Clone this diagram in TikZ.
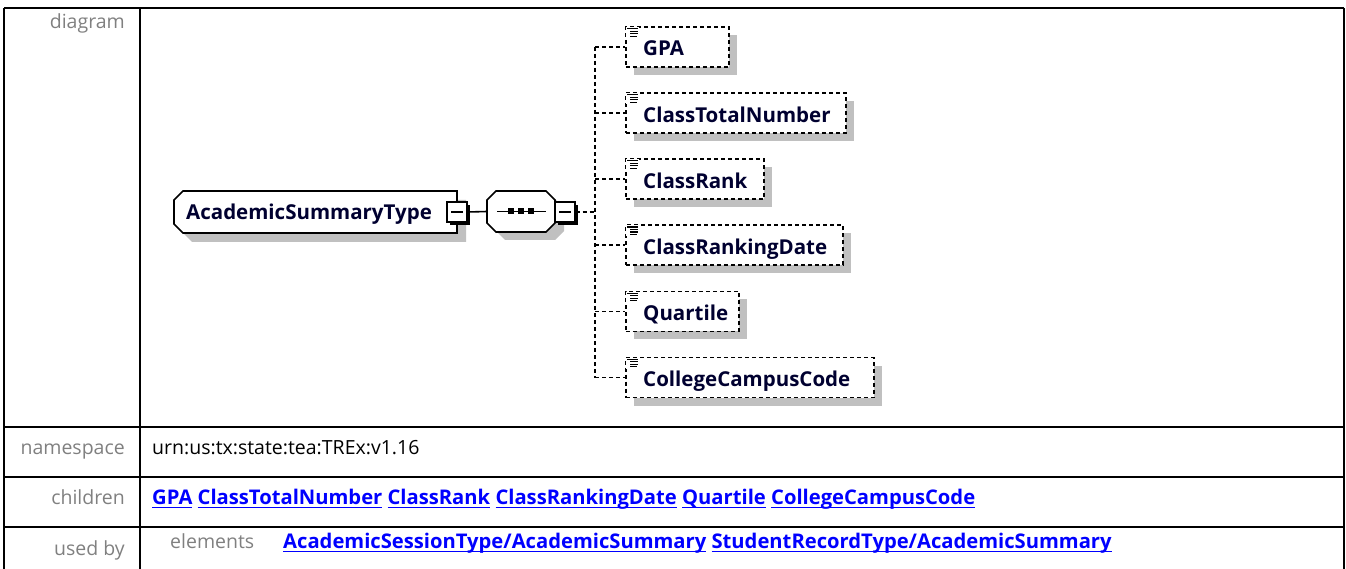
\documentclass[tikz,border=0pt]{standalone}
\usepackage{fontspec}
\setmainfont{Open Sans}
\usetikzlibrary{calc,shadows}
\definecolor{shgray}{RGB}{192,192,192}
\definecolor{lblgray}{RGB}{128,128,128}
\definecolor{navyink}{RGB}{0,0,48}
\definecolor{linkblue}{RGB}{0,0,255}
\newcommand\lnk[1]{\setbox0\hbox{#1}\leavevmode\rlap{\rule[-3.5pt]{\wd0}{1.6pt}}\box0\relax}
\newcommand\elempath[3]{($(#1.north west)+(9+#2,#3)$) -- ($(#1.north east)+(#2,#3)$) -- ($(#1.south east)+(#2,#3)$) -- ($(#1.south west)+(9+#2,#3)$) -- ($(#1.south west)+(#2,-9+#3)$) -- ($(#1.north west)+(#2,9+#3)$) -- cycle}
\newcommand\octpath[3]{($(#1.north west)+(9+#2,#3)$) -- ($(#1.north east)+(-9+#2,#3)$) -- ($(#1.north east)+(#2,9+#3)$) -- ($(#1.south east)+(#2,-9+#3)$) -- ($(#1.south east)+(-9+#2,#3)$) -- ($(#1.south west)+(9+#2,#3)$) -- ($(#1.south west)+(#2,-9+#3)$) -- ($(#1.north west)+(#2,9+#3)$) -- cycle}
\begin{document}
\begin{tikzpicture}[x=1pt,y=-1pt,
  tbl/.style={line width=2pt, black},
  lbl/.style={inner sep=0, text=lblgray, font=\fontsize{19.5}{22}\selectfont},
  val/.style={inner sep=0, text=black, font=\fontsize{19.5}{22}\selectfont},
  lnktxt/.style={inner sep=0, text=linkblue, font=\bfseries\fontsize{20.2}{22}\selectfont},
  dtext/.style={inner sep=0, text=navyink, font=\bfseries\fontsize{20.5}{22}\selectfont},
  anchorbox/.style={inner sep=0pt, outer sep=0pt},
  shapeline/.style={line width=1.6pt, fill=white},
  minusbox/.style={draw, line width=1.2pt, fill=white, minimum size=20pt, inner sep=0pt,
    general shadow={fill=black, shadow xshift=3pt, shadow yshift=-3pt}},
  childbox/.style={draw, dash pattern=on 4pt off 3pt, line width=1.6pt, fill=white,
    minimum height=40pt, anchor=west, inner sep=0pt,
    general shadow={fill=shgray, shadow xshift=8pt, shadow yshift=-8pt}},
  dashline/.style={line width=1.6pt, dash pattern=on 4pt off 3pt},
  solidline/.style={line width=1.6pt},
  iconline/.style={line width=1.1pt}
]
\useasboundingbox (0,0) rectangle (1346,569);

% table
\draw[tbl] (4,8) -- (1344,8);
\draw[tbl] (4,8) -- (4,575);
\draw[tbl] (140,8) -- (140,575);
\draw[tbl] (1344,8) -- (1344,575);
\draw[tbl] (4,427) -- (1344,427);
\draw[tbl] (4,477) -- (1344,477);
\draw[tbl] (4,527) -- (1344,527);

% left labels
\node[lbl, anchor=mid east] (Ldiag) at (125,26) {diagram};
\node[lbl, anchor=mid east] (Lns) at (125,452) {namespace};
\node[lbl, anchor=mid east] (Lch) at (125,502) {children};
\node[lbl, anchor=mid east] (Lub) at (125,553) {used by};

% values
\node[val, anchor=mid west] (Vns) at (152,452) {urn:us:tx:state:tea:TREx:v1.16};
\node[lnktxt, anchor=mid west] (Vch) at (152,502) {\lnk{GPA} \lnk{ClassTotalNumber} \lnk{ClassRank} \lnk{ClassRankingDate} \lnk{Quartile} \lnk{CollegeCampusCode}};
\node[lbl, anchor=mid west] (Vel) at (170,546) {elements};
\node[lnktxt, anchor=mid west] (Vub) at (283,546) {\lnk{AcademicSessionType/AcademicSummary} \lnk{StudentRecordType/AcademicSummary}};

% diagram: element
\node[anchorbox, minimum width=283pt, minimum height=42pt] (ast) at (315.5,212) {};
\fill[shgray] \elempath{ast}{9}{9};
\draw[shapeline] \elempath{ast}{0}{0};
\node[dtext, anchor=base west] (astT) at (186,219.5) {AcademicSummaryType};
\node[minusbox] (astm) at (457,212) {};
\draw[line width=1.5pt] ([xshift=-6pt]astm.center) -- ([xshift=6pt]astm.center);

% compositor (sequence)
\node[anchorbox, minimum width=68pt, minimum height=41pt] (seq) at (521,211.5) {};
\fill[shgray] \octpath{seq}{9}{8};
\draw[shapeline] \octpath{seq}{0}{0};
\draw[line width=1.5pt] ([xshift=-24pt]seq.center) -- ([xshift=25pt]seq.center);
\fill ([xshift=-13pt,yshift=-3pt]seq.center) rectangle ([xshift=-7pt,yshift=3pt]seq.center);
\fill ([xshift=-3pt,yshift=-3pt]seq.center) rectangle ([xshift=3pt,yshift=3pt]seq.center);
\fill ([xshift=7pt,yshift=-3pt]seq.center) rectangle ([xshift=13pt,yshift=3pt]seq.center);
\node[minusbox] (seqm) at (565,212) {};
\draw[line width=1.5pt] ([xshift=-6pt]seqm.center) -- ([xshift=6pt]seqm.center);

\draw[solidline] (astm.east) -- (seq.west);

% children
\node[childbox, minimum width=103pt] (c1) at (625,47) {};
\node[childbox, minimum width=220pt] (c2) at (625,113.1) {};
\node[childbox, minimum width=138pt] (c3) at (625,179.2) {};
\node[childbox, minimum width=217pt] (c4) at (625,245.3) {};
\node[childbox, minimum width=113pt] (c5) at (625,311.4) {};
\node[childbox, minimum width=248pt] (c6) at (625,377.5) {};

\foreach \c/\t in {c1/GPA, c2/ClassTotalNumber, c3/ClassRank, c4/ClassRankingDate, c5/Quartile, c6/CollegeCampusCode}{
  \node[dtext, anchor=base west] (\c T) at ([xshift=18pt,yshift=-9pt]\c.west) {\t};
  \fill[white] ([xshift=1pt,yshift=-1pt]\c.north west) rectangle ([xshift=14pt,yshift=-12pt]\c.north west);
  \draw[iconline] ([xshift=2pt,yshift=-2.5pt]\c.north west) -- ([xshift=13pt,yshift=-2.5pt]\c.north west);
  \draw[iconline] ([xshift=5pt,yshift=-5pt]\c.north west) -- ([xshift=13pt,yshift=-5pt]\c.north west);
  \draw[iconline] ([xshift=5pt,yshift=-7.5pt]\c.north west) -- ([xshift=13pt,yshift=-7.5pt]\c.north west);
  \draw[iconline] ([xshift=5pt,yshift=-10pt]\c.north west) -- ([xshift=12pt,yshift=-10pt]\c.north west);
}

% connectors
\coordinate (tj) at (595,212);
\draw[dashline] (seqm.east) -- (tj);
\draw[dashline] (tj |- c1.west) -- (tj |- c6.west);
\foreach \c in {c1,c2,c3,c4,c5,c6}{
  \draw[dashline] (tj |- \c.west) -- (\c.west);
}
\end{tikzpicture}
\end{document}
